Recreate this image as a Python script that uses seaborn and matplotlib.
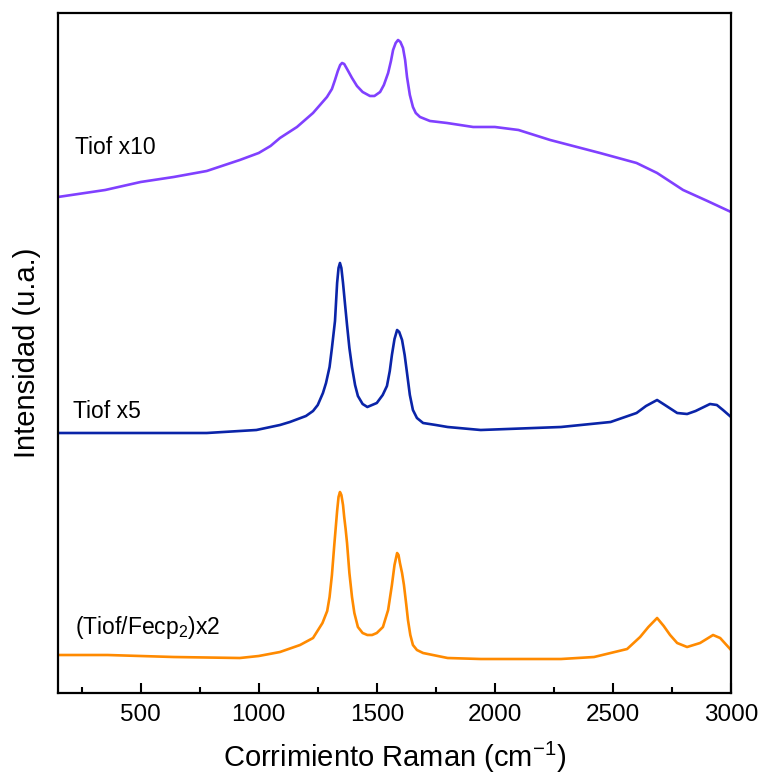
import numpy as np
import pandas as pd
import matplotlib
matplotlib.use("Agg")
import matplotlib.pyplot as plt
import seaborn as sns

# Raman shift (cm^-1) and intensities (arbitrary, offset)
x_tiof10 = [150, 350, 500, 640, 780, 920, 1000, 1050, 1090, 1162, 1230, 1289, 1310, 1323, 1335,
            1345, 1353, 1362, 1374, 1395, 1416, 1440, 1471, 1490, 1514, 1530, 1548, 1560, 1569,
            1580, 1590, 1600, 1611, 1620, 1628, 1640, 1653, 1665, 1683, 1725, 1797, 1908, 2000,
            2100, 2234, 2445, 2600, 2687, 2797, 2900, 3000]
y_tiof10 = [496, 503, 511, 516, 522, 533, 540, 547, 555, 566, 580, 596, 604, 613, 622,
            628, 630, 629, 624, 615, 607, 601, 597, 597, 601, 608, 620, 632, 643,
            650, 653, 651, 645, 633, 616, 598, 586, 580, 576, 572, 570, 566, 566,
            563, 553, 540, 530, 520, 503, 492, 481]

x_tiof5 = [150, 500, 780, 990, 1090, 1132, 1200, 1230, 1250, 1272, 1285, 1300, 1310, 1323, 1332,
           1338, 1344, 1350, 1357, 1365, 1374, 1384, 1395, 1408, 1420, 1440, 1460, 1500, 1525,
           1543, 1555, 1564, 1575, 1586, 1595, 1607, 1618, 1628, 1640, 1653, 1670, 1696, 1750,
           1800, 1940, 2280, 2490, 2600, 2640, 2687, 2720, 2772, 2814, 2850, 2911, 2940, 2966, 3000]
y_tiof5 = [260, 260, 260, 263, 268, 271, 277, 282, 288, 300, 310, 326, 345, 372, 410,
           425, 430, 425, 410, 390, 368, 345, 326, 308, 297, 289, 286, 290, 298,
           307, 322, 338, 354, 363, 361, 353, 338, 320, 298, 283, 275, 270, 268,
           266, 263, 266, 271, 280, 287, 293, 288, 280, 279, 282, 289, 288, 283, 276]

x_fecp = [150, 360, 640, 920, 1000, 1090, 1175, 1230, 1270, 1290, 1300, 1310, 1320, 1326, 1332,
          1338, 1344, 1350, 1357, 1362, 1368, 1374, 1384, 1395, 1405, 1420, 1440, 1460, 1480,
          1500, 1526, 1548, 1564, 1575, 1586, 1592, 1598, 1607, 1615, 1625, 1632, 1642, 1653,
          1670, 1696, 1800, 1940, 2280, 2420, 2560, 2615, 2650, 2687, 2715, 2742, 2772, 2814,
          2869, 2924, 2954, 3000]
y_fecp = [38, 38, 36, 35, 37, 41, 48, 55, 70, 82, 96, 118, 148, 165, 182,
          196, 201, 198, 188, 176, 164, 150, 120, 96, 80, 66, 60, 58, 58,
          60, 66, 83, 108, 128, 140, 138, 130, 120, 108, 88, 73, 58, 48,
          43, 40, 35, 34, 34, 36, 44, 56, 66, 75, 67, 58, 50, 46,
          50, 58, 55, 43]

labels = ["Tiof x10", "Tiof x5", "(Tiof/Fecp$_2$)x2"]
colors = ["#8040FF", "#0A24A8", "#FF8A00"]
x_ticks = [500, 1000, 1500, 2000, 2500, 3000]

df = pd.concat([
    pd.DataFrame({"x": x_tiof10, "y": y_tiof10, "s": "tiof10"}),
    pd.DataFrame({"x": x_tiof5, "y": y_tiof5, "s": "tiof5"}),
    pd.DataFrame({"x": x_fecp, "y": y_fecp, "s": "fecp"}),
], ignore_index=True)

sns.set_style("ticks")
plt.rcParams["font.family"] = ["Liberation Sans", "DejaVu Sans"]
plt.rcParams["mathtext.default"] = "regular"
plt.rcParams["text.color"] = "black"
plt.rcParams["axes.labelcolor"] = "black"
plt.rcParams["xtick.color"] = "black"

fig = plt.figure(figsize=(7.61, 7.82), dpi=100)
ax = fig.add_axes([0.0762, 0.1138, 0.8844, 0.8696])

sns.lineplot(data=df, x="x", y="y", hue="s", palette=dict(zip(["tiof10", "tiof5", "fecp"], colors)),
             linewidth=1.9, legend=False, ax=ax, sort=False, estimator=None)

ax.set_xlim(150, 3000)
ax.set_ylim(0, 680)
ax.set_xticks(x_ticks)
ax.set_xticklabels([str(t) for t in x_ticks])
ax.set_xticks(np.arange(250, 3000, 500), minor=True)
ax.set_yticks([])
ax.tick_params(axis="x", which="major", direction="in", length=7.5, width=1.5, labelsize=17.5,
               pad=8, colors="black", labelcolor="black")
ax.tick_params(axis="x", which="minor", direction="in", length=4.5, width=1.5, colors="black")
for sp in ax.spines.values():
    sp.set_linewidth(1.6)
    sp.set_color("black")

ax.set_xlabel("Corrimiento Raman (cm$^{-1}$)", fontsize=21, labelpad=10, color="black")
ax.set_ylabel("Intensidad (u.a.)", fontsize=21, labelpad=12, color="black")

ax.text(222, 545, labels[0], fontsize=16.5, va="center", ha="left", color="black")
ax.text(214, 281, labels[1], fontsize=16.5, va="center", ha="left", color="black")
ax.text(222, 66, labels[2], fontsize=16.5, va="center", ha="left", color="black")

fig.savefig("out.png", dpi=100)
